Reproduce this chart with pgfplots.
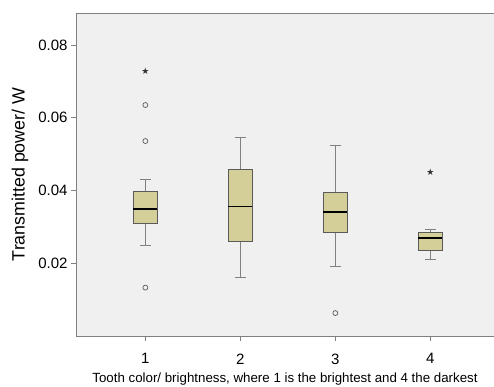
\documentclass[border=0pt]{standalone}
\usepackage{pgfplots}
\pgfplotsset{compat=1.18}
\usepackage{fontspec}
\setmainfont{Liberation Sans}
\newfontfamily\dejavu{DejaVu Sans}
\definecolor{bgc}{RGB}{240,240,240}
\definecolor{boxfill}{RGB}{212,207,153}
\definecolor{axgray}{RGB}{128,128,128}
\definecolor{boxedge}{RGB}{90,90,90}
\begin{document}
\begin{tikzpicture}
\useasboundingbox (0,0) rectangle (494pt,387pt);
\begin{axis}[
  at={(76pt,51pt)}, anchor=south west,
  scale only axis, width=418pt, height=323pt,
  xmin=0.27, xmax=4.67, ymin=0, ymax=0.0888,
  axis background/.style={fill=bgc},
  axis x line*=bottom, axis y line*=left,
  axis line style={-, axgray, line width=0.9pt},
  tick align=outside, major tick length=5pt,
  tick style={axgray, line width=0.9pt},
  xtick={1,2,3,4},
  ytick={0.02,0.04,0.06,0.08},
  /pgf/number format/assume math mode=true,
  yticklabel style={/pgf/number format/.cd, fixed, fixed zerofill, precision=2},
  xticklabel style={yshift=-9pt},
  scaled y ticks=false,
  ticklabel style={font=\fontsize{15}{18}\selectfont},
  xlabel={Tooth color/ brightness, where 1 is the brightest and 4 the darkest},
  ylabel={Transmitted power/ W},
  xlabel style={font=\fontsize{13.3}{16}\selectfont, yshift=-2pt},
  ylabel style={font=\fontsize{17.8}{21}\selectfont, yshift=3pt},
  whisk/.style={draw=axgray, line width=1pt, mark=none},
  bx/.style={draw=boxedge, fill=boxfill, line width=1pt, mark=none},
  med/.style={draw=black, line width=1.4pt, mark=none},
  clip=false,
]
% ---- group 1: lw .0250, q1 .0310, med .0349, q3 .0397, uw .0429
\addplot[whisk] coordinates {(1,0.0250) (1,0.0310)};
\addplot[whisk] coordinates {(1,0.0397) (1,0.0429)};
\addplot[whisk] coordinates {(0.9425,0.0250) (1.0575,0.0250)};
\addplot[whisk] coordinates {(0.9425,0.0429) (1.0575,0.0429)};
\addplot[bx] coordinates {(0.875,0.0310) (1.125,0.0310) (1.125,0.0397) (0.875,0.0397)} -- cycle;
\addplot[med] coordinates {(0.875,0.0349) (1.125,0.0349)};
% ---- group 2: lw .0160, q1 .0259, med .0356, q3 .0457, uw .0546
\addplot[whisk] coordinates {(2,0.0160) (2,0.0259)};
\addplot[whisk] coordinates {(2,0.0457) (2,0.0546)};
\addplot[whisk] coordinates {(1.9425,0.0160) (2.0575,0.0160)};
\addplot[whisk] coordinates {(1.9425,0.0546) (2.0575,0.0546)};
\addplot[bx] coordinates {(1.875,0.0259) (2.125,0.0259) (2.125,0.0457) (1.875,0.0457)} -- cycle;
\addplot[med] coordinates {(1.875,0.0356) (2.125,0.0356)};
% ---- group 3: lw .0190, q1 .0285, med .0341, q3 .0394, uw .0524
\addplot[whisk] coordinates {(3,0.0190) (3,0.0285)};
\addplot[whisk] coordinates {(3,0.0394) (3,0.0524)};
\addplot[whisk] coordinates {(2.9425,0.0190) (3.0575,0.0190)};
\addplot[whisk] coordinates {(2.9425,0.0524) (3.0575,0.0524)};
\addplot[bx] coordinates {(2.875,0.0285) (3.125,0.0285) (3.125,0.0394) (2.875,0.0394)} -- cycle;
\addplot[med] coordinates {(2.875,0.0341) (3.125,0.0341)};
% ---- group 4: lw .0209, q1 .0235, med .0269, q3 .0284, uw .0292
\addplot[whisk] coordinates {(4,0.0209) (4,0.0235)};
\addplot[whisk] coordinates {(4,0.0284) (4,0.0292)};
\addplot[whisk] coordinates {(3.9425,0.0209) (4.0575,0.0209)};
\addplot[whisk] coordinates {(3.9425,0.0292) (4.0575,0.0292)};
\addplot[bx] coordinates {(3.875,0.0235) (4.125,0.0235) (4.125,0.0284) (3.875,0.0284)} -- cycle;
\addplot[med] coordinates {(3.875,0.0269) (4.125,0.0269)};
% outliers (circles)
\addplot[only marks, mark=o, mark size=2.5pt, draw=boxedge, line width=0.7pt] coordinates {(1,0.0635) (1,0.0536) (1,0.0133) (3,0.0063)};
% extreme values (stars)
\addplot[only marks, mark=text, text mark={\dejavu\fontsize{9}{9}\selectfont\color{black!80}★}] coordinates {(1,0.0727) (4,0.0450)};
\draw[axgray, line width=0.9pt] (rel axis cs:0,1) -- (rel axis cs:1,1);
\end{axis}
\end{tikzpicture}
\end{document}
